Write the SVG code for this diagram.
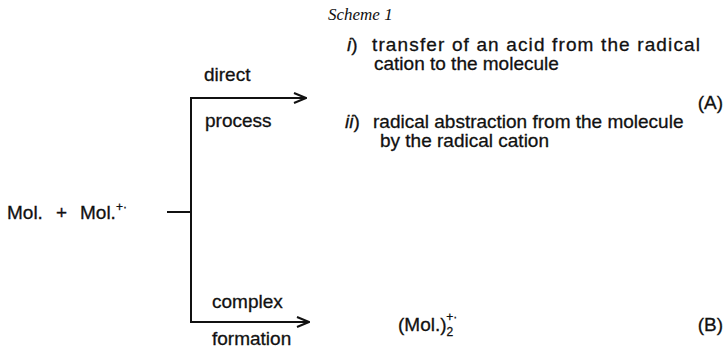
<svg xmlns="http://www.w3.org/2000/svg" width="726" height="355" viewBox="0 0 726 355">
<defs>
<style>
text{font-family:"Liberation Sans",Arial,Helvetica,sans-serif;font-size:19px;fill:#111;stroke:#111;stroke-width:0.3;}
.ttl{font-family:"Liberation Serif","Times New Roman",serif;font-style:italic;font-size:17px;stroke:none;}
.it{font-style:italic;}
.sup{font-size:12px;}
.ln{stroke:#111;stroke-width:2;fill:none;}
</style>
<marker id="arr" markerWidth="14" markerHeight="12" refX="13" refY="6" orient="auto" markerUnits="userSpaceOnUse">
<path d="M1,1 L13,6 L1,11" fill="none" stroke="#111" stroke-width="2"/>
</marker>
</defs>
<rect width="726" height="355" fill="#fff"/>
<g id="title"><text class="ttl" x="328" y="20">Scheme 1</text></g>
<g id="reactants">
<text x="7" y="219">Mol.</text>
<text x="56" y="219">+</text>
<text x="80" y="219">Mol.<tspan class="sup" dy="-8">+·</tspan></text>
</g>
<g id="connectors">
<line class="ln" x1="167" y1="212" x2="191" y2="212"/>
<line class="ln" x1="191" y1="97" x2="191" y2="323"/>
<line class="ln" x1="190" y1="98" x2="306" y2="98" marker-end="url(#arr)"/>
<line class="ln" x1="190" y1="322" x2="309" y2="322" marker-end="url(#arr)"/>
</g>
<g id="label-direct"><text x="204" y="81">direct</text><text x="205" y="127">process</text></g>
<g id="label-complex"><text x="212" y="308">complex</text><text x="212" y="345">formation</text></g>
<g id="path-A">
<text x="347" y="51"><tspan class="it">i</tspan>)</text>
<text x="372" y="51" textLength="328" lengthAdjust="spacing">transfer of an acid from the radical</text>
<text x="374" y="70">cation to the molecule</text>
<text x="345" y="128"><tspan class="it">ii</tspan>)</text>
<text x="373" y="128">radical abstraction from the molecule</text>
<text x="380" y="147">by the radical cation</text>
<text x="723" y="109" text-anchor="end">(A)</text>
</g>
<g id="path-B">
<text x="398" y="331">(Mol.)<tspan class="sup" dy="5">2</tspan><tspan class="sup" dx="-7" dy="-15">+·</tspan></text>
<text x="723" y="331" text-anchor="end">(B)</text>
</g>
</svg>
